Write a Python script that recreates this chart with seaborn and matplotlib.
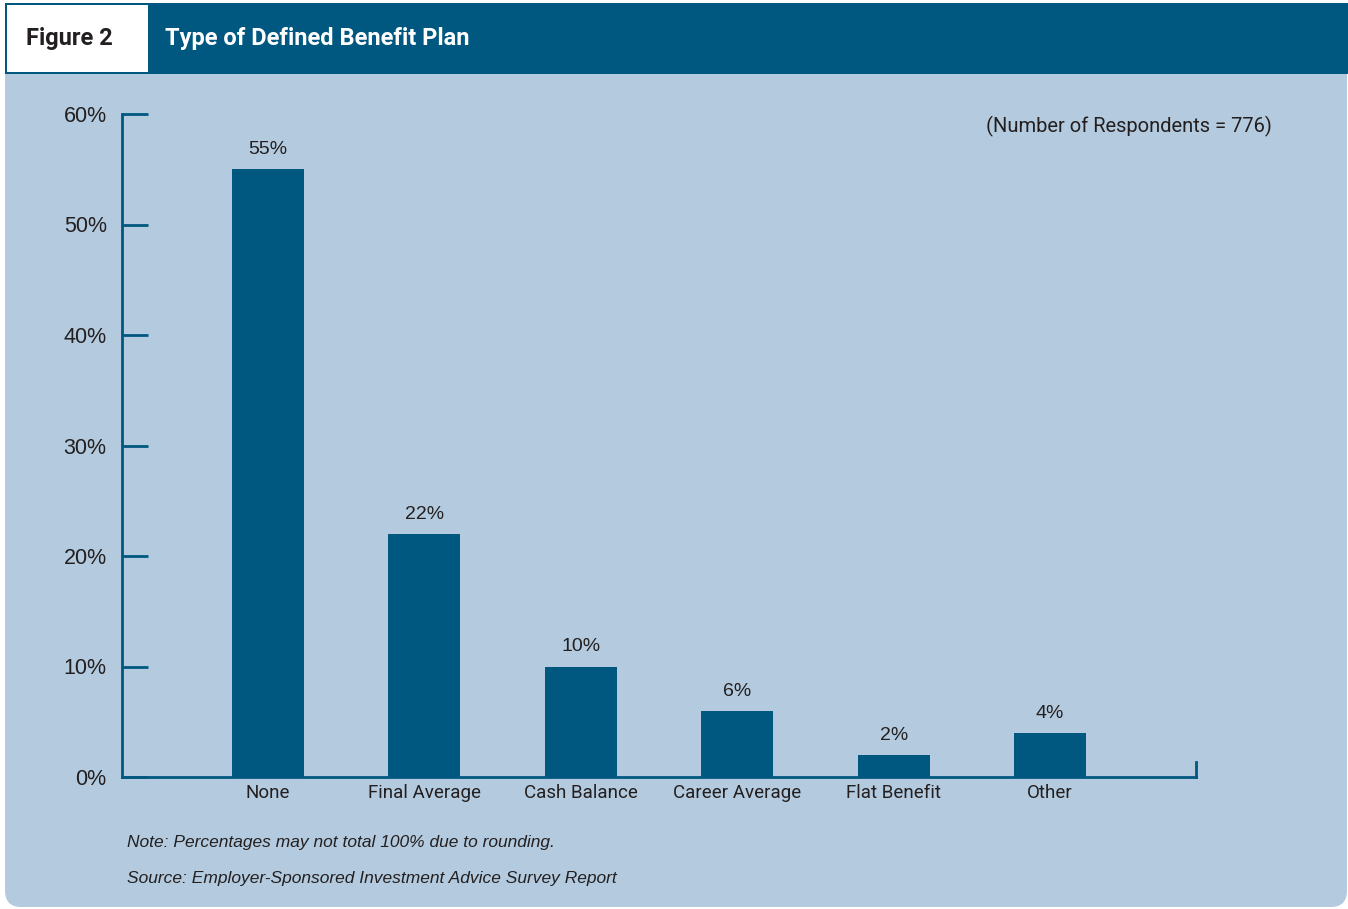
import matplotlib
matplotlib.use("Agg")
import matplotlib.pyplot as plt
from matplotlib.patches import FancyBboxPatch, Rectangle
from matplotlib import font_manager
import seaborn as sns
import pandas as pd

# Survey results
categories = ["None", "Final Average", "Cash Balance", "Career Average", "Flat Benefit", "Other"]
shares = [55, 22, 10, 6, 2, 4]
y_ticks = [0, 10, 20, 30, 40, 50, 60]
y_tick_labels = [f"{v}%" for v in y_ticks]

NAVY = "#005780"
PANEL = "#b4cbdf"
INK = "#231f20"

installed = {f.name for f in font_manager.fontManager.ttflist}
NARROW = ["Liberation Sans Narrow", "Roboto", "DejaVu Sans"]
if "Liberation Sans Narrow" not in installed:
    NARROW = ["Roboto", "DejaVu Sans"]
PLAIN = ["Liberation Sans", "DejaVu Sans"]

sns.set_theme(style="white")
plt.rcParams["font.family"] = PLAIN

W, H = 1348, 909
fig = plt.figure(figsize=(W / 100, H / 100), dpi=100)
fig.patch.set_facecolor("white")


def fx(px):
    return px / W


def fy(py):
    return 1 - py / H


# Light-blue panel with rounded corners
fig.patches.append(FancyBboxPatch((fx(5), fy(907)), fx(1342), fy(60) - fy(907),
                                  boxstyle="round,pad=0,rounding_size=0.012",
                                  transform=fig.transFigure, facecolor=PANEL,
                                  edgecolor="none", zorder=-3,
                                  mutation_aspect=W / H))
# Header band
fig.patches.append(Rectangle((fx(5), fy(74)), fx(1343), fy(3) - fy(74),
                             transform=fig.transFigure, facecolor=NAVY,
                             edgecolor="none", zorder=-2))
# White figure-number box
fig.patches.append(Rectangle((fx(7), fy(72)), fx(141), fy(5) - fy(72),
                             transform=fig.transFigure, facecolor="white",
                             edgecolor="none", zorder=-1))

fig.text(fx(69), fy(38), "Figure 2", ha="center", va="center", fontsize=17,
         fontweight="bold", color=INK, family=NARROW, zorder=3)
fig.text(fx(165), fy(38), "Type of Defined Benefit Plan", ha="left", va="center",
         fontsize=17, fontweight="bold", color="white", family=NARROW, zorder=3)

ax = fig.add_axes([fx(122), fy(777), fx(1196) - fx(122), fy(114) - fy(777)])
ax.set_zorder(5)
ax.set_facecolor("none")

df = pd.DataFrame({"plan": categories, "share": shares})
sns.barplot(data=df, x="plan", y="share", order=categories, color=NAVY,
            saturation=1, width=0.46, linewidth=0, ax=ax, zorder=2)

ax.set_xlim(-0.933, 5.933)
ax.set_ylim(0, 60)
ax.set_xlabel("")
ax.set_ylabel("")

ax.spines["top"].set_visible(False)
for side in ("left", "bottom", "right"):
    ax.spines[side].set_color(NAVY)
    ax.spines[side].set_linewidth(2.0)
ax.spines["right"].set_bounds(0, 1.35)

ax.set_yticks(y_ticks)
ax.set_yticklabels(y_tick_labels)
ax.tick_params(axis="y", direction="in", length=19, width=2.0, color=NAVY,
               pad=11, labelsize=15.5, labelcolor=INK, left=True)
ax.tick_params(axis="x", length=0, pad=5, labelsize=13.5, labelcolor=INK)
for lbl in ax.get_xticklabels():
    lbl.set_family(NARROW)

for container in ax.containers:
    ax.bar_label(container, labels=[f"{v}%" for v in shares], padding=8,
                 fontsize=14, color=INK)

fig.text(fx(1272), fy(126), "(Number of Respondents = 776)", ha="right",
         va="center", fontsize=14.5, color=INK, family=NARROW)

fig.text(fx(127), fy(842), "Note: Percentages may not total 100% due to rounding.",
         ha="left", va="center", fontsize=12.5, style="italic", color=INK)
fig.text(fx(127), fy(879), "Source: Employer-Sponsored Investment Advice Survey Report",
         ha="left", va="center", fontsize=12.5, style="italic", color=INK)

fig.savefig("out.png", dpi=100, facecolor=fig.get_facecolor())
